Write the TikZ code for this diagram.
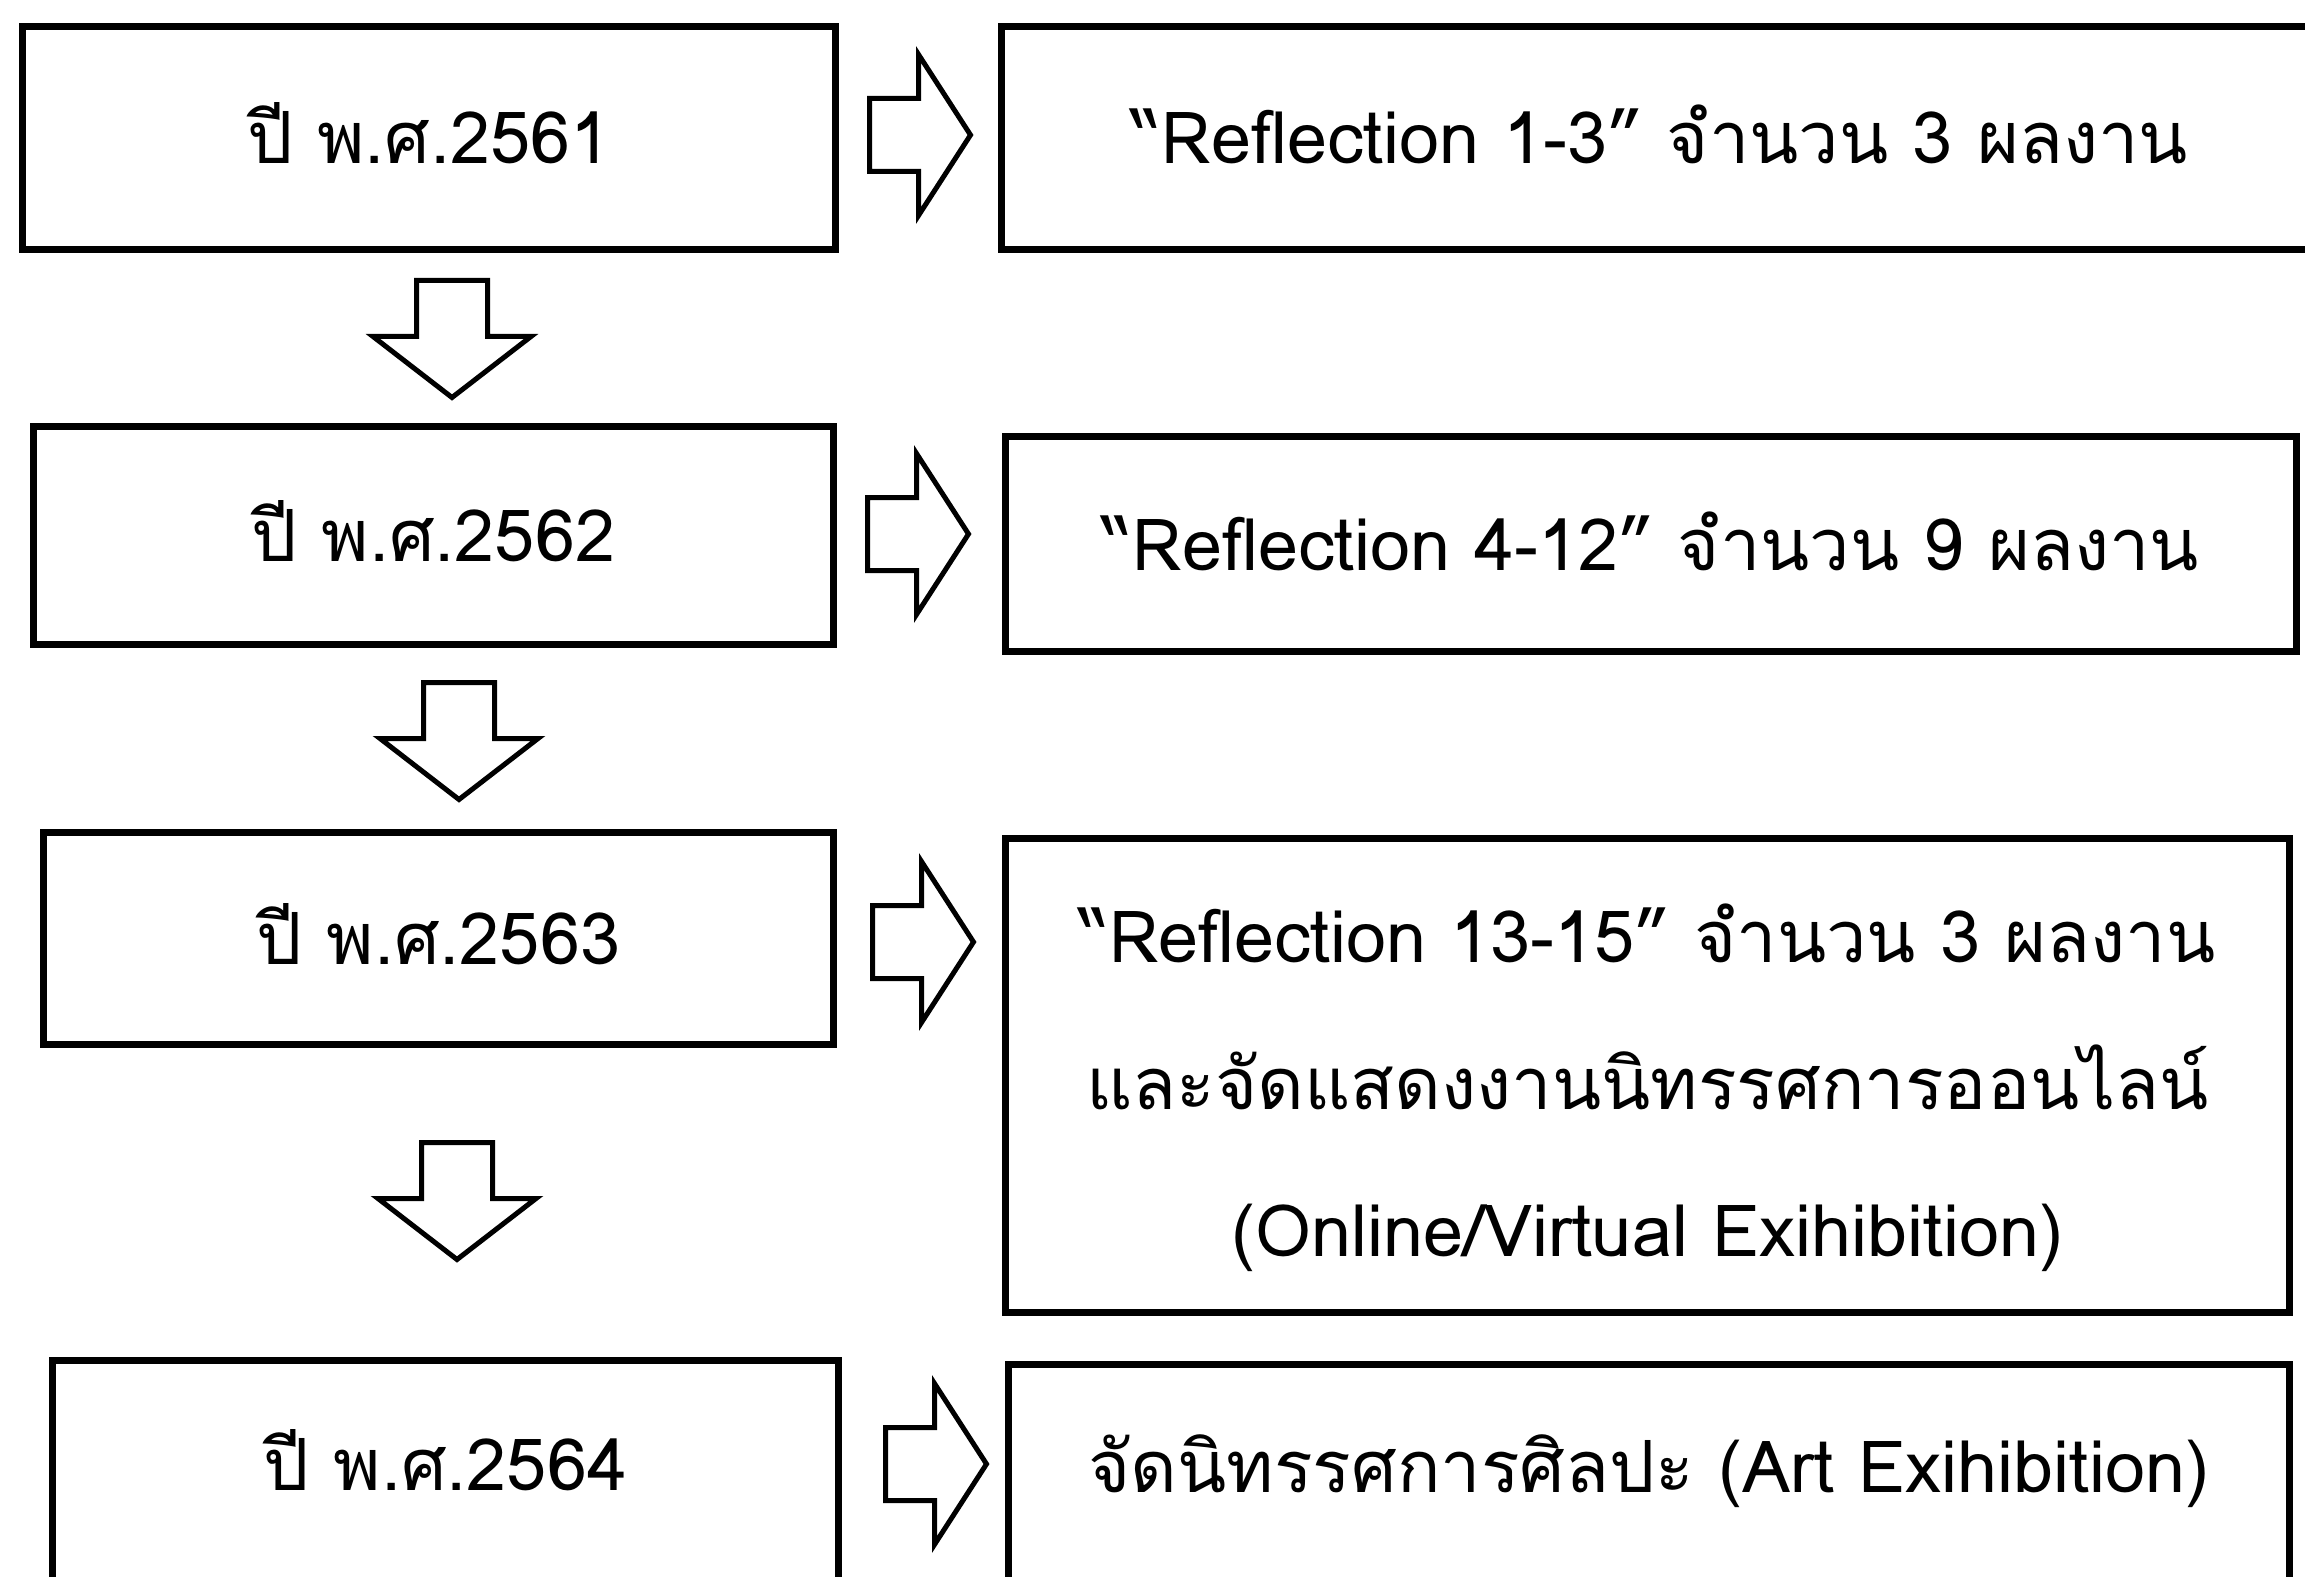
\documentclass[tikz,border=0pt]{standalone}
\usepackage{fontspec}
\newfontfamily\thaifont[Script=Thai]{Loma}

\tikzset{
  box/.style={draw, line width=3.5pt, inner sep=0pt,
    text height=26pt, text depth=0pt,
    font=\thaifont\fontsize{36}{73.5}\selectfont},
  % hollow block arrows, drawn around their centre
  harrow/.pic={
    \draw[line width=2.5pt, miter limit=20]
      (-50.5,-36.5) -- (-1.5,-36.5) -- (-1.5,-80.5) -- (50.5,0)
      -- (-1.5,80.5) -- (-1.5,36.5) -- (-50.5,36.5) -- cycle;
  },
  varrow/.pic={
    \draw[line width=2.5pt, miter limit=20]
      (-35.5,-58.5) -- (35.5,-58.5) -- (35.5,-2.5) -- (79,-2.5)
      -- (0,58.5) -- (-79,-2.5) -- (-35.5,-2.5) -- cycle;
  }
}

\begin{document}
\begin{tikzpicture}[x=0.5pt, y=-0.5pt]
    \useasboundingbox (0,0) rectangle (2305,1577);
    \fill[white] (0,0) rectangle (2305,1577);
    \clip (0,0) rectangle (2305,1577);

    % years
    \node[box, minimum width=406.5pt, minimum height=111.5pt] (y1) at (429,138) {ปี พ.ศ.2561};
    \node[box, minimum width=400pt, minimum height=109pt] (y2) at (433.5,535.5) {ปี พ.ศ.2562};
    \node[box, minimum width=395pt, minimum height=106pt] (y3) at (438.5,938.5) {ปี พ.ศ.2563};
    \node[box, minimum width=393pt, minimum height=130pt, text height=13pt, text depth=13pt] (y4) at (445.5,1490) {ปี พ.ศ.2564};

    % works
    \node[box, minimum width=658.5pt, minimum height=111.5pt] (r1) at (1660,138) {“Reflection 1-3” จำนวน 3 ผลงาน};
    \node[box, minimum width=645.5pt, minimum height=107.5pt] (r2) at (1651,544) {“Reflection 4-12” จำนวน 9 ผลงาน};
    \node[box, minimum width=642pt, minimum height=237pt, text height=190.5pt, text depth=10pt, align=center] (r3) at (1647.5,1075.5)
      {“Reflection 13-15” จำนวน 3 ผลงาน\\และจัดแสดงงานนิทรรศการออนไลน์\\(Online/Virtual Exihibition)};
    \node[box, minimum width=640.5pt, minimum height=128pt, text height=13pt, text depth=13pt] (r4) at (1649,1492) {จัดนิทรรศการศิลปะ (Art Exihibition)};

    % arrows
    \pic at (920,135) {harrow};
    \pic at (918,534) {harrow};
    \pic at (923,942) {harrow};
    \pic at (936,1464) {harrow};
    \pic at (452,339) {varrow};
    \pic at (459,741) {varrow};
    \pic at (457,1201) {varrow};
\end{tikzpicture}
\end{document}
